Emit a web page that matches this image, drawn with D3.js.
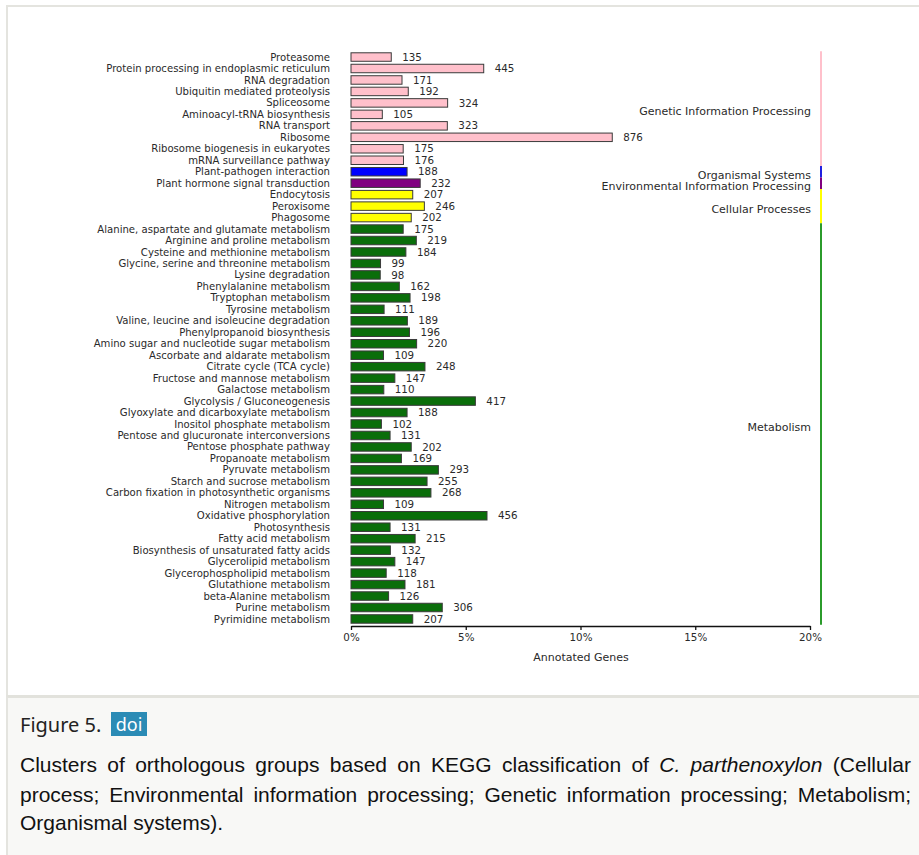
<!DOCTYPE html>
<html>
<head>
<meta charset="utf-8">
<script src="https://cdn.jsdelivr.net/npm/d3@7"></script>
<style>
  body { margin: 0; background: #fff; width: 919px; height: 855px; overflow: hidden; position: relative; }
  #frame { position: absolute; left: 6px; top: 5px; width: 913px; height: 691px; box-sizing: border-box;
           border-left: 2px solid #e4e4df; border-top: 2px solid #e4e4df; }
  #chart { position: absolute; left: 0; top: 0; }
  #caption { position: absolute; left: 6px; top: 695px; width: 913px; height: 160px; box-sizing: border-box;
             background: #f8f8f6; border-top: 3px solid #e2e2dc; border-left: 2px solid #e4e4df; }
  #fig-title { position: absolute; left: 20px; top: 713px; font: 20px/24px "Noto Sans", sans-serif; color: #222; }
  #doi { position: absolute; left: 111px; top: 712px; width: 36px; height: 24px; background: #2b8bb5; color: #fff;
         font: 18px/24px "Noto Sans", sans-serif; text-align: center; }
  .cap-line { position: absolute; left: 20px; width: 891px; font: 21px/29px "Liberation Sans", Arial, sans-serif;
              color: #111; white-space: nowrap; }
  .cap-line.just { text-align: justify; text-align-last: justify; white-space: normal; }
  #chart text { font-family: "DejaVu Sans", sans-serif; fill: #2a2a2a; }
</style>
</head>
<body>
<div id="frame"></div>
<div id="caption"></div>
<svg id="chart" width="919" height="694"></svg>
<div id="fig-title">Figure 5.</div>
<div id="doi">doi</div>
<div class="cap-line just" style="top:750px">Clusters of orthologous groups based on KEGG classification of <i>C. parthenoxylon</i> (Cellular</div>
<div class="cap-line just" style="top:780px">process; Environmental information processing; Genetic information processing; Metabolism;</div>
<div class="cap-line" style="top:808px">Organismal systems).</div>
<script>
// KEGG pathways, top to bottom
const pathways = [
  "Proteasome", "Protein processing in endoplasmic reticulum", "RNA degradation",
  "Ubiquitin mediated proteolysis", "Spliceosome", "Aminoacyl-tRNA biosynthesis", "RNA transport",
  "Ribosome", "Ribosome biogenesis in eukaryotes", "mRNA surveillance pathway",
  "Plant-pathogen interaction",
  "Plant hormone signal transduction",
  "Endocytosis", "Peroxisome", "Phagosome",
  "Alanine, aspartate and glutamate metabolism", "Arginine and proline metabolism",
  "Cysteine and methionine metabolism", "Glycine, serine and threonine metabolism", "Lysine degradation",
  "Phenylalanine metabolism", "Tryptophan metabolism", "Tyrosine metabolism",
  "Valine, leucine and isoleucine degradation", "Phenylpropanoid biosynthesis",
  "Amino sugar and nucleotide sugar metabolism", "Ascorbate and aldarate metabolism",
  "Citrate cycle (TCA cycle)", "Fructose and mannose metabolism", "Galactose metabolism",
  "Glycolysis / Gluconeogenesis", "Glyoxylate and dicarboxylate metabolism", "Inositol phosphate metabolism",
  "Pentose and glucuronate interconversions", "Pentose phosphate pathway", "Propanoate metabolism",
  "Pyruvate metabolism", "Starch and sucrose metabolism", "Carbon fixation in photosynthetic organisms",
  "Nitrogen metabolism", "Oxidative phosphorylation", "Photosynthesis", "Fatty acid metabolism",
  "Biosynthesis of unsaturated fatty acids", "Glycerolipid metabolism", "Glycerophospholipid metabolism",
  "Glutathione metabolism", "beta-Alanine metabolism", "Purine metabolism", "Pyrimidine metabolism"
];

// number of annotated genes per pathway
const geneCounts = [
  135, 445, 171, 192, 324, 105, 323, 876, 175, 176,
  188,
  232,
  207, 246, 202,
  175, 219, 184, 99, 98, 162, 198, 111, 189, 196, 220, 109, 248, 147, 110, 417, 188, 102,
  131, 202, 169, 293, 255, 268, 109, 456, 131, 215, 132, 147, 118, 181, 126, 306, 207
];

// total annotated genes (percent base)
const totalAnnotated = 7695;

// KEGG classes and how many consecutive rows each one covers
const classNames = ["Genetic Information Processing", "Organismal Systems",
  "Environmental Information Processing", "Cellular Processes", "Metabolism"];
const classRowCounts = [10, 1, 1, 3, 35];

const xTicks = [0, 5, 10, 15, 20];

// colours
const barColors = ["#ffc0cb", "#0000ff", "#800080", "#ffff00", "#0a6e0a"];
const sideColors = ["#ffc0cb", "#2020e0", "#800080", "#ffff00", "#2b9b2b"];

// build rows
const rowClass = [];
classRowCounts.forEach((n, i) => { for (let k = 0; k < n; k++) rowClass.push(i); });
const rows = pathways.map((p, i) => ({ name: p, count: geneCounts[i], cls: rowClass[i] }));

const svg = d3.select("#chart");

const x = d3.scaleLinear().domain([0, 20]).range([351, 810]);
const y = d3.scaleBand().domain(pathways).range([51.3, 624.7]).paddingInner(0.26).paddingOuter(0.13);

// bars
svg.selectAll(".bar")
  .data(rows)
  .enter()
  .append("rect")
  .attr("class", "bar")
  .attr("x", x(0))
  .attr("y", d => y(d.name))
  .attr("width", d => x(d.count / totalAnnotated * 100) - x(0))
  .attr("height", y.bandwidth())
  .attr("fill", d => barColors[d.cls])
  .attr("stroke", "#3a3a3a")
  .attr("stroke-width", 1);

// value labels
svg.selectAll(".val")
  .data(rows)
  .enter()
  .append("text")
  .attr("class", "val")
  .attr("x", d => x(d.count / totalAnnotated * 100) + 11)
  .attr("y", d => y(d.name) + y.bandwidth() / 2)
  .attr("dy", "0.35em")
  .style("font-size", "10.3px")
  .text(d => d.count);

// pathway names
svg.selectAll(".name")
  .data(rows)
  .enter()
  .append("text")
  .attr("class", "name")
  .attr("x", 330)
  .attr("y", d => y(d.name) + y.bandwidth() / 2)
  .attr("dy", "0.35em")
  .attr("text-anchor", "end")
  .style("font-size", "10.1px")
  .text(d => d.name);

// x axis
const axis = svg.append("g")
  .attr("transform", "translate(0,626)")
  .call(d3.axisBottom(x).tickValues(xTicks).tickFormat(d => d + "%").tickSize(4).tickSizeOuter(0));
axis.select(".domain").attr("stroke", "#111").attr("stroke-width", 1.3);
axis.selectAll(".tick line").attr("stroke", "#111").attr("stroke-width", 1.3);
axis.selectAll(".tick text").attr("y", 8).style("font-size", "10.3px").style("font-family", "DejaVu Sans, sans-serif").attr("fill", "#333");

svg.append("text")
  .attr("x", 581)
  .attr("y", 661)
  .attr("text-anchor", "middle")
  .style("font-size", "11px")
  .text("Annotated Genes");

// class side bar and labels
const step = y.step();
let start = 0;
const classSpans = classRowCounts.map((n, i) => {
  const first = pathways[start], last = pathways[start + n - 1];
  start += n;
  return {
    name: classNames[i], cls: i,
    top: y(first) - step * 0.13,
    bottom: y(last) + y.bandwidth() + step * 0.13
  };
});

svg.selectAll(".side")
  .data(classSpans)
  .enter()
  .append("line")
  .attr("x1", 821).attr("x2", 821)
  .attr("y1", d => d.top).attr("y2", d => d.bottom)
  .attr("stroke", d => sideColors[d.cls])
  .attr("stroke-width", 2);

svg.selectAll(".cls")
  .data(classSpans)
  .enter()
  .append("text")
  .attr("x", 811)
  .attr("y", d => (d.top + d.bottom) / 2 + 3)
  .attr("dy", "0.35em")
  .attr("text-anchor", "end")
  .style("font-size", "11px")
  .text(d => d.name);
</script>
</body>
</html>
